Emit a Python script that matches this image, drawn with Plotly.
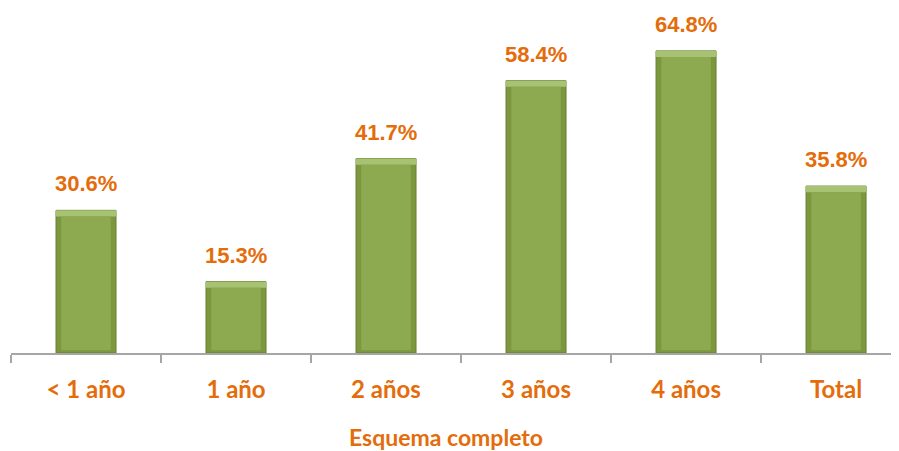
import plotly.graph_objects as go

categories = ["< 1 año", "1 año", "2 años", "3 años", "4 años", "Total"]
values = [30.6, 15.3, 41.7, 58.4, 64.8, 35.8]
labels = ["30.6%", "15.3%", "41.7%", "58.4%", "64.8%", "35.8%"]

ORANGE = "#E46C0A"
BEVEL = 1.3  # bevel depth in data units

fig = go.Figure()
# outer bar (darker sides)
fig.add_trace(go.Bar(
    x=categories, y=values, width=0.4,
    marker=dict(color="#7C973E", line=dict(color="#66802F", width=1)),
    hoverinfo="skip",
))
# light top bevel
fig.add_trace(go.Bar(
    x=categories, y=[BEVEL] * len(values), base=[v - BEVEL for v in values], width=0.4,
    marker=dict(color="#A8C273", line=dict(width=0)),
    hoverinfo="skip",
))
# inner face
fig.add_trace(go.Bar(
    x=categories, y=[v - BEVEL - 0.6 for v in values], base=[0.6] * len(values), width=0.33,
    marker=dict(color="#8DAA50", line=dict(width=0)),
    hoverinfo="skip",
))

for cat, val, lab in zip(categories, values, labels):
    fig.add_annotation(
        x=cat, y=val, text=f"<b>{lab}</b>", showarrow=False,
        yanchor="bottom", yshift=12,
        font=dict(family="Liberation Sans Narrow, Arial Narrow, Liberation Sans, sans-serif", size=22, color=ORANGE),
    )

fig.add_annotation(
    x=0.485, y=-84 / 345, xref="paper", yref="paper", text="<b>Esquema completo</b>",
    showarrow=False, xanchor="center", yanchor="middle",
    font=dict(family="Lato, sans-serif", size=23, color=ORANGE),
)

fig.update_layout(
    width=899, height=451,
    margin=dict(l=3, r=0, t=0, b=106, autoexpand=False),
    paper_bgcolor="white", plot_bgcolor="white",
    barmode="overlay", showlegend=False,
)
fig.update_xaxes(
    range=[-0.5, 5.473],
    showline=True, linecolor="#A6A6A6", linewidth=2,
    ticks="outside", tickson="boundaries", ticklen=8, tickcolor="#A6A6A6", tickwidth=2,
    ticklabelstandoff=14,
    tickfont=dict(family="Lato, sans-serif", size=24, color=ORANGE, weight="bold"),
    showgrid=False,
)
fig.update_yaxes(range=[0, 74.0], visible=False, showgrid=False)

fig.write_html("out.html")
